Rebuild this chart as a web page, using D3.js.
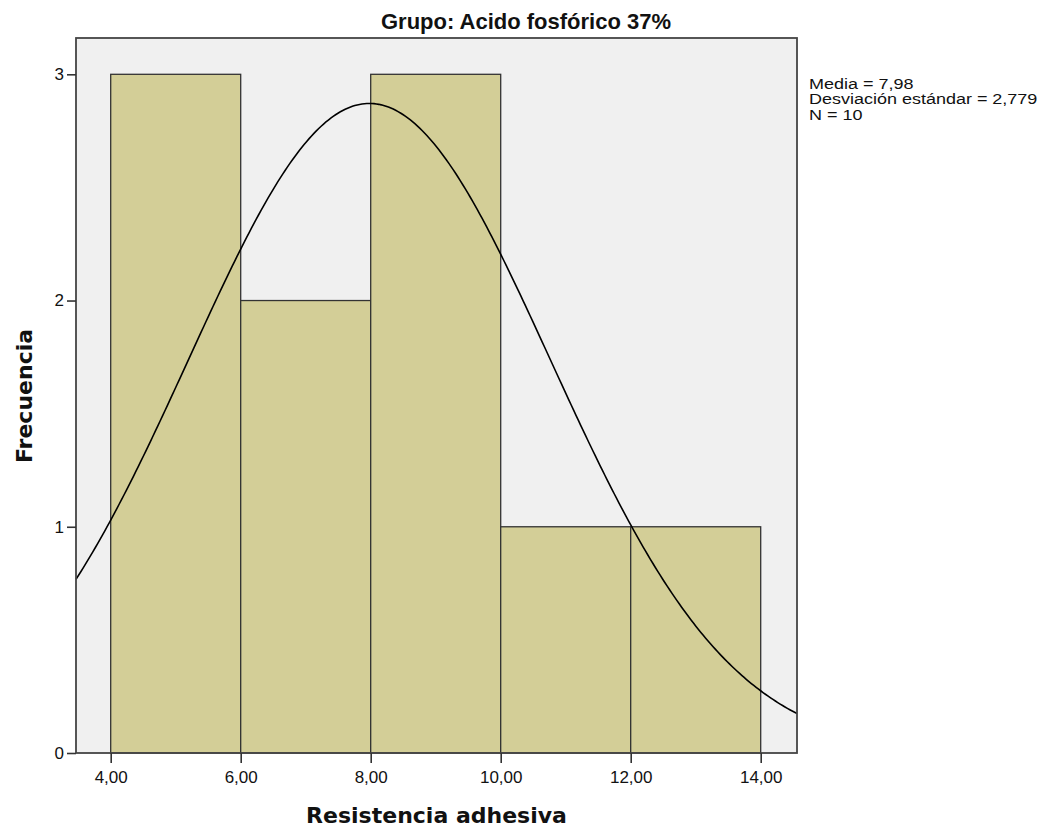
<!DOCTYPE html>
<html><head><meta charset="utf-8">
<script src="https://cdn.jsdelivr.net/npm/d3@7"></script>
<style>body{margin:0;background:#fff}svg{display:block}</style>
</head><body>
<script>
const binStarts = [4, 6, 8, 10, 12];
const binEnds = [6, 8, 10, 12, 14];
const frequencies = [3, 2, 3, 1, 1];
const xTickValues = [4, 6, 8, 10, 12, 14];
const yTickValues = [0, 1, 2, 3];
const statsLines = ["Media = 7,98", "Desviación estándar = 2,779", "N = 10"];
const mean = 7.98, sd = 2.779, n = 10, binWidth = 2;

const W = 1052, H = 830;
const svg = d3.select("body").append("svg").attr("width", W).attr("height", H);
const L = 76, R = 797, T = 38, B = 753;
const x = d3.scaleLinear().domain([4, 14]).range([110.7, 760.7]);
const x0 = x.invert(L), x1 = x.invert(R);
const y = d3.scaleLinear().domain([0, 3]).range([B, 74.3]);

svg.append("rect").attr("x", L).attr("y", T).attr("width", R - L).attr("height", B - T).attr("fill", "#f0f0f0");

const bars = binStarts.map((s, i) => ({s, e: binEnds[i], f: frequencies[i]}));
svg.append("g").selectAll("rect").data(bars).join("rect")
  .attr("x", d => x(d.s)).attr("width", d => x(d.e) - x(d.s))
  .attr("y", d => y(d.f)).attr("height", d => y(0) - y(d.f))
  .attr("fill", "#d3ce97").attr("stroke", "#333").attr("stroke-width", 1.3);

const pts = d3.range(0, 301).map(i => {
  const v = x0 + (x1 - x0) * i / 300;
  const z = (v - mean) / sd;
  return [v, n * binWidth * Math.exp(-0.5 * z * z) / (sd * Math.sqrt(2 * Math.PI))];
});
svg.append("path").datum(pts).attr("fill", "none").attr("stroke", "#000").attr("stroke-width", 1.6)
  .attr("d", d3.line().x(d => x(d[0])).y(d => y(d[1])));

svg.append("rect").attr("x", L).attr("y", T).attr("width", R - L).attr("height", B - T)
  .attr("fill", "none").attr("stroke", "#444").attr("stroke-width", 1.8);

const fmt = v => v.toFixed(2).replace(".", ",");
const xAxis = svg.append("g").attr("transform", `translate(0,${B})`)
  .call(d3.axisBottom(x).tickValues(xTickValues).tickFormat(fmt).tickSize(10).tickSizeOuter(0));
xAxis.select(".domain").remove();
xAxis.selectAll("line").attr("stroke", "#333").attr("stroke-width", 1.6);
xAxis.selectAll("text").attr("font-family", "Liberation Sans, Arial").attr("font-size", 17)
  .attr("fill", "#111").attr("y", 30).attr("dy", 0);

const yAxis = svg.append("g").attr("transform", `translate(${L},0)`)
  .call(d3.axisLeft(y).tickValues(yTickValues).tickFormat(d3.format("d")).tickSize(9).tickSizeOuter(0));
yAxis.select(".domain").remove();
yAxis.selectAll("line").attr("stroke", "#333").attr("stroke-width", 1.6);
yAxis.selectAll("text").attr("font-family", "Liberation Sans, Arial").attr("font-size", 17)
  .attr("fill", "#111").attr("x", -12);

svg.append("text").attr("x", W / 2).attr("y", 29).attr("text-anchor", "middle")
  .attr("font-family", "Liberation Sans, Arial").attr("font-weight", "bold")
  .attr("font-size", 22).attr("fill", "#111").text("Grupo: Acido fosfórico 37%");

svg.append("text").attr("x", (L + R) / 2).attr("y", 823).attr("text-anchor", "middle")
  .attr("font-family", "DejaVu Sans").attr("font-weight", "bold")
  .attr("font-size", 22).attr("fill", "#111").text("Resistencia adhesiva");

svg.append("text").attr("transform", "translate(32,396) rotate(-90)").attr("text-anchor", "middle")
  .attr("font-family", "DejaVu Sans").attr("font-weight", "bold")
  .attr("font-size", 22).attr("fill", "#111").text("Frecuencia");

svg.append("g").attr("transform", "translate(809,0) scale(1.2,1)")
  .selectAll("text").data(statsLines).join("text")
  .attr("x", 0).attr("y", (d, i) => 89 + i * 15.5)
  .attr("font-family", "Liberation Sans, Arial").attr("font-size", 15).attr("fill", "#111")
  .text(d => d);
</script>
</body></html>
